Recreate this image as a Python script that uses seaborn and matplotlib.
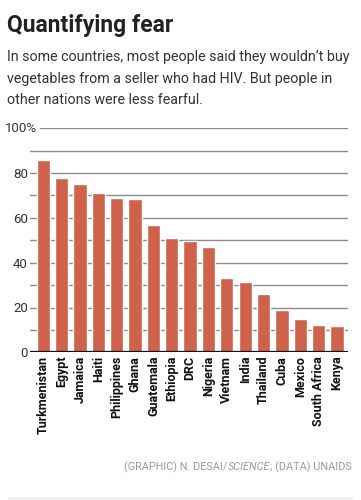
import matplotlib
matplotlib.use("Agg")
import matplotlib.pyplot as plt
import seaborn as sns
import pandas as pd
from matplotlib.lines import Line2D

countries = ["Turkmenistan", "Egypt", "Jamaica", "Haiti", "Philippines", "Ghana",
             "Guatemala", "Ethiopia", "DRC", "Nigeria", "Vietnam", "India",
             "Thailand", "Cuba", "Mexico", "South Africa", "Kenya"]
values = [86, 78, 75, 71, 69, 68.5, 57, 51, 49.5, 47, 33, 31.3, 26, 19, 15, 12.4, 11.8]
ytick_vals = [0, 20, 40, 60, 80]
ytick_labels = ["0", "20", "40", "60", "80"]
grid_vals = [10, 20, 30, 40, 50, 60, 70, 80, 90]
subtitle_lines = ["In some countries, most people said they wouldn\u2019t buy",
                  "vegetables from a seller who had HIV. But people in",
                  "other nations were less fearful."]

df = pd.DataFrame({"country": countries, "value": values})

sns.set_theme(style="white")
plt.rcParams["font.family"] = ["Roboto", "DejaVu Sans"]

W, H = 361, 500
fig = plt.figure(figsize=(W / 100, H / 100), dpi=100)
ax = fig.add_axes([30 / W, 1 - 352.3 / H, 318 / W, 224 / H])

bar_color = "#cf624a"
sns.barplot(data=df, x="country", y="value", color=bar_color, width=0.72,
            saturation=1, ax=ax)
for p in ax.patches:
    p.set_zorder(3)
ax.set_xlim(-0.72, 16.6)
ax.set_ylim(0, 100)

for g in grid_vals:
    ax.axhline(g, color="#8c8c8c", lw=1.0, zorder=1)
ax.axhline(100, xmin=10 / 318, color="#8c8c8c", lw=1.0, zorder=1)
ax.axhline(0, color="#111111", lw=1.6, zorder=4)

for s in ax.spines.values():
    s.set_visible(False)

ax.set_yticks(ytick_vals)
ax.set_yticklabels(ytick_labels, fontsize=9.5, color="#333333")
ax.tick_params(axis="y", length=0, pad=1.5)
ax.tick_params(axis="x", length=0, pad=2.5)
ax.set_xticks(range(len(countries)))
ax.set_xticklabels(countries, rotation=90, fontsize=9, fontweight="bold",
                   color="#111111", va="top")
ax.set_xlabel("")
ax.set_ylabel("")

ax.text(37 / W, 1 - 128.3 / H, "100%", transform=fig.transFigure, ha="right",
        va="center", fontsize=9.5, color="#333333")

fig.text(7 / W, 1 - 32 / H, "Quantifying fear", fontsize=16.5, fontweight="bold",
         color="#222222", ha="left", va="baseline")
for i, line in enumerate(subtitle_lines):
    fig.text(7 / W, 1 - (61.5 + 21 * i) / H, line,
             fontsize=10.3, color="#333333", ha="left", va="baseline")

# footer assembled from parts so SCIENCE can be italic
renderer = fig.canvas.get_renderer()
parts = [("(GRAPHIC) N. DESAI/", "normal"), ("SCIENCE", "italic"),
         ("; (DATA) UNAIDS", "normal")]
objs = []
for txt, st in parts:
    objs.append(fig.text(0, 1 - 467 / H, txt, fontsize=7.8, color="#9a9a9a",
                         style=st, ha="left", va="center"))
widths = [o.get_window_extent(renderer).width for o in objs]
x = 352 - sum(widths)
for o, w in zip(objs, widths):
    o.set_x(x / W)
    x += w

fig.add_artist(Line2D([8 / W, 352 / W], [1 - 498 / H, 1 - 498 / H],
                      transform=fig.transFigure, color="#e4e4e4", lw=1))

fig.savefig("out.png", dpi=100, facecolor="white")
